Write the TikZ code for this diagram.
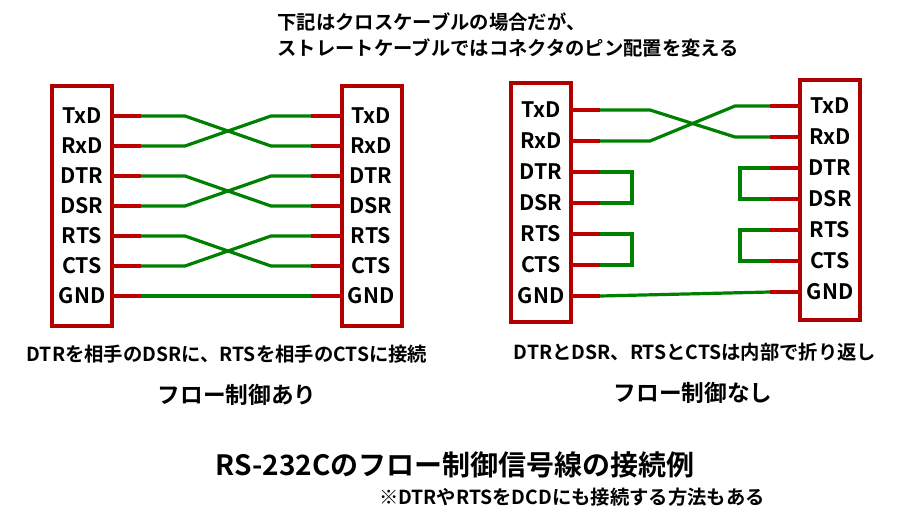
\documentclass[tikz,border=0pt]{standalone}
\usepackage{fontspec}
\setmainfont{Noto Sans CJK JP}[BoldFont={* Bold}]
\usetikzlibrary{calc}
\begin{document}
\begin{tikzpicture}[x=0.75pt, y=-0.75pt, line width=2.4pt,
  box/.style={draw=red!70!black, line width=2.6pt},
  red wire/.style={draw=red!75!black},
  green wire/.style={draw=green!50!black},
  pin/.style={font=\bfseries\fontsize{16}{16}\selectfont, inner sep=0pt},
  note/.style={font=\bfseries\fontsize{14.5}{19}\selectfont, align=left, inner sep=0pt}]
\useasboundingbox (0,0) rectangle (908,525);

% left pair
\draw [box] (52,86) rectangle (112,326);
\draw [box] (342,86) rectangle (402,326);
\foreach \l [count=\y] in {TxD,RxD,DTR,DSR,RTS,CTS,GND} {
  \node [pin] (a-\y) at (82,86+30*\y) {\l};
  \node [pin] (b-\y) at (371,86+30*\y) {\l};
  \coordinate (ap-\y) at (112,86+30*\y);
  \coordinate (bp-\y) at (342,86+30*\y);
  \coordinate (ag-\y) at (141,86+30*\y);
  \coordinate (bg-\y) at (311,86+30*\y);
  \draw [red wire] (ap-\y) -- (ag-\y);
  \draw [red wire] (bp-\y) -- (bg-\y);
}
\foreach \i/\j in {1/2,2/1,3/4,4/3,5/6,6/5}
  \draw [green wire] (ag-\i) -- ++(44,0) -- ($(bg-\j)+(-40,0)$) -- (bg-\j);
\draw [green wire] (ag-7) -- (bg-7);

% right pair
\draw [box] (511,83) rectangle (571,322);
\draw [box] (800,80) rectangle (860,320);
\foreach \l [count=\y] in {TxD,RxD,DTR,DSR,RTS,CTS,GND} {
  \node [pin] (c-\y) at (541,79+31*\y) {\l};
  \node [pin] (d-\y) at (830,75+31*\y) {\l};
  \coordinate (cp-\y) at (571,79+31*\y);
  \coordinate (dp-\y) at (800,75+31*\y);
  \coordinate (cg-\y) at (600,79+31*\y);
  \coordinate (dg-\y) at (770,75+31*\y);
  \draw [red wire] (cp-\y) -- (cg-\y);
  \draw [red wire] (dp-\y) -- (dg-\y);
}
\draw [green wire] (cg-1) -- ++(50,0) -- ($(dg-2)+(-35,0)$) -- (dg-2);
\draw [green wire] (cg-2) -- ++(50,0) -- ($(dg-1)+(-35,0)$) -- (dg-1);
\foreach \i/\j in {3/4,5/6} {
  \draw [green wire] (cg-\i) -| ++(32,31) -- (cg-\j);
  \draw [green wire] (dg-\i) -| ++(-30,31) -- (dg-\j);
}
\draw [green wire] (cg-7) -- (dg-7);

% texts
\node [note, anchor=west] (top) at (276,35) {下記はクロスケーブルの場合だが、\\ストレートケーブルではコネクタのピン配置を変える};
\node [note] (capL) at (227,354) {DTRを相手のDSRに、RTSを相手のCTSに接続};
\node [note] (capR) at (695,352) {DTRとDSR、RTSとCTSは内部で折り返し};
\node [font=\bfseries\fontsize{17}{17}\selectfont] (flowL) at (237,395) {フロー制御あり};
\node [font=\bfseries\fontsize{17}{17}\selectfont] (flowR) at (693,393) {フロー制御なし};
\node [font=\bfseries\fontsize{21}{21}\selectfont] (title) at (455,465) {RS-232Cのフロー制御信号線の接続例};
\node [note] (ps) at (572,497) {※DTRやRTSをDCDにも接続する方法もある};
\end{tikzpicture}
\end{document}
